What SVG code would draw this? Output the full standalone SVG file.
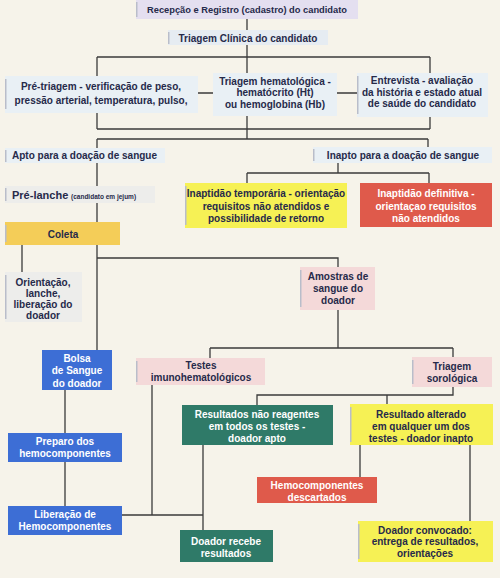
<svg xmlns="http://www.w3.org/2000/svg" width="500" height="578" viewBox="0 0 500 578">
<style>
text{font-family:"Liberation Sans",Arial,sans-serif;font-weight:700;font-size:10px;fill:#262a4a;text-anchor:middle}
.w{fill:#ffffff}
.s{font-size:9.3px}
.l{text-anchor:start}
.sm{font-size:6.5px}
.big{font-size:11px}
.ln{stroke:#3b3b3b;stroke-width:1.3;fill:none}
.tab{fill:#b9bdca}
.lt{fill:#e9f0f5}
.gr{fill:#ededeb}
.pk{fill:#f4d9d9}
.yl{fill:#f6f155}
.rd{fill:#df5a4b}
.bl{fill:#3d6ed5}
.tl{fill:#2f7a68}
</style>
<rect x="0" y="0" width="500" height="578" fill="#f6f3ea"/>
<g id="connectors" class="ln">
<path d="M247 19V30M247 45V57M97 57H430M97 57V76M430 57V73M247 57V73"/>
<path d="M198 93H213M337 93H357"/>
<path d="M97 113V129M430 117V129M97 129H430M247 116V139M97 139H428M97 139V148M428 139V147"/>
<path d="M338 163V173M247 173H429M247 173V183M429 173V183"/>
<path d="M97 163V186M97 203V222M97 245V350M22 245V272"/>
<path d="M97 258H338V267M338 310V348M210 348H453M210 348V358M453 348V357"/>
<path d="M453 387V395H257V405M387 395V404"/>
<path d="M152 385V515M122 515H203M203 445V530"/>
<path d="M65 390V433M65 462V506"/>
<path d="M360 445V477M470 445V521"/>
</g>
<g id="recepcao">
<rect x="136" y="0" width="222" height="19" fill="#e4dff0"/>
<rect class="tab" x="136" y="2" width="1.5" height="15"/>
<text class="s" x="247" y="12.5">Recepção e Registro (cadastro) do candidato</text>
</g>
<g id="triagem-clinica">
<rect x="168" y="30" width="160" height="15" fill="#e6ecf2"/>
<rect class="tab" x="168" y="32" width="1.5" height="12"/>
<text x="248" y="41.5">Triagem Clínica do candidato</text>
</g>
<g id="pre-triagem">
<rect class="lt" x="5" y="76" width="193" height="37"/>
<rect class="tab" x="5" y="79" width="1.5" height="30"/>
<text x="101" y="89.5">Pré-triagem - verificação de peso,</text>
<text x="101" y="103.5">pressão arterial, temperatura, pulso,</text>
</g>
<g id="triagem-hematologica">
<rect class="lt" x="213" y="73" width="124" height="43"/>
<text x="275" y="84.5">Triagem hematológica -</text>
<text x="275" y="96">hematócrito (Ht)</text>
<text x="275" y="107.5">ou hemoglobina (Hb)</text>
</g>
<g id="entrevista">
<rect class="lt" x="357" y="73" width="131" height="44"/>
<rect class="tab" x="357" y="76" width="1.5" height="38"/>
<text x="422" y="83.5">Entrevista - avaliação</text>
<text x="422" y="95.5">da história e estado atual</text>
<text x="422" y="107">de saúde do candidato</text>
</g>
<g id="apto">
<rect class="lt" x="5" y="148" width="160" height="15"/>
<rect class="tab" x="5" y="150" width="1.5" height="12"/>
<text class="l" x="12" y="159">Apto para a doação de sangue</text>
</g>
<g id="inapto">
<rect class="lt" x="313" y="147" width="179" height="16"/>
<rect class="tab" x="313" y="149" width="1.5" height="12"/>
<text x="403" y="159">Inapto para a doação de sangue</text>
</g>
<g id="pre-lanche">
<rect class="gr" x="5" y="186" width="150" height="17"/>
<rect class="tab" x="5" y="188" width="1.5" height="13"/>
<text class="l" x="12" y="198.5"><tspan class="big">Pré-lanche</tspan> <tspan class="sm">(candidato em jejum)</tspan></text>
</g>
<g id="coleta">
<rect x="5" y="222" width="115" height="23" fill="#f4cd58"/>
<rect class="tab" x="5" y="225" width="1.5" height="17"/>
<text x="63" y="237.5">Coleta</text>
</g>
<g id="orientacao">
<rect class="gr" x="5" y="272" width="77" height="50"/>
<rect class="tab" x="5" y="275" width="1.5" height="44"/>
<text x="43" y="285.5">Orientação,</text>
<text x="43" y="296.5">lanche,</text>
<text x="43" y="307.5">liberação do</text>
<text x="43" y="318.5">doador</text>
</g>
<g id="inaptidao-temporaria">
<rect class="yl" x="185" y="183" width="162" height="45"/>
<rect class="tab" x="185" y="186" width="1.5" height="39"/>
<text x="266" y="196.5">Inaptidão temporária - orientação</text>
<text x="266" y="209.5">requisitos não atendidos e</text>
<text x="266" y="221.5">possibilidade de retorno</text>
</g>
<g id="inaptidao-definitiva">
<rect class="rd" x="360" y="183" width="132" height="44"/>
<text class="w" x="426" y="196.5">Inaptidão definitiva -</text>
<text class="w" x="426" y="209.5">orientaçao requisitos</text>
<text class="w" x="426" y="221.5">não atendidos</text>
</g>
<g id="amostras">
<rect class="pk" x="300" y="267" width="75" height="43"/>
<rect class="tab" x="300" y="270" width="1.5" height="37"/>
<text x="338" y="279.5">Amostras de</text>
<text x="338" y="291.5">sangue do</text>
<text x="338" y="303.5">doador</text>
</g>
<g id="bolsa">
<rect class="bl" x="42" y="350" width="70" height="40"/>
<text class="w" x="77" y="361.5">Bolsa</text>
<text class="w" x="77" y="374">de Sangue</text>
<text class="w" x="77" y="386.5">do doador</text>
</g>
<g id="testes">
<rect class="pk" x="136" y="358" width="129" height="27"/>
<rect class="tab" x="136" y="361" width="1.5" height="21"/>
<text x="201" y="368.5">Testes</text>
<text x="201" y="380.5">imunohematológicos</text>
</g>
<g id="triagem-sorologica">
<rect class="pk" x="412" y="357" width="80" height="30"/>
<rect class="tab" x="412" y="360" width="1.5" height="24"/>
<text x="452" y="369.5">Triagem</text>
<text x="452" y="381.5">sorológica</text>
</g>
<g id="resultados-nao-reagentes">
<rect class="tl" x="182" y="405" width="151" height="40"/>
<text class="w" x="257" y="417.5">Resultados não reagentes</text>
<text class="w" x="257" y="429.5">em todos os testes -</text>
<text class="w" x="257" y="441.5">doador apto</text>
</g>
<g id="resultado-alterado">
<rect class="yl" x="350" y="404" width="143" height="41"/>
<rect class="tab" x="350" y="407" width="1.5" height="35"/>
<text x="421" y="417.5">Resultado alterado</text>
<text x="421" y="429.5">em qualquer um dos</text>
<text x="421" y="441.5">testes - doador inapto</text>
</g>
<g id="preparo">
<rect class="bl" x="8" y="433" width="114" height="29"/>
<text class="w" x="65" y="445">Preparo dos</text>
<text class="w" x="65" y="457">hemocomponentes</text>
</g>
<g id="descartados">
<rect class="rd" x="257" y="477" width="120" height="26"/>
<text class="w" x="317" y="488.5">Hemocomponentes</text>
<text class="w" x="317" y="500.5">descartados</text>
</g>
<g id="liberacao">
<rect class="bl" x="8" y="506" width="114" height="29"/>
<text class="w" x="65" y="517.5">Liberação de</text>
<text class="w" x="65" y="529.5">Hemocomponentes</text>
</g>
<g id="doador-recebe">
<rect class="tl" x="180" y="530" width="93" height="32"/>
<text class="w" x="226" y="544.5">Doador recebe</text>
<text class="w" x="226" y="556.5">resultados</text>
</g>
<g id="doador-convocado">
<rect class="yl" x="358" y="521" width="135" height="41"/>
<rect class="tab" x="358" y="524" width="1.5" height="35"/>
<text x="425" y="533.5">Doador convocado:</text>
<text x="425" y="545">entrega de resultados,</text>
<text x="425" y="556.5">orientações</text>
</g>
</svg>
